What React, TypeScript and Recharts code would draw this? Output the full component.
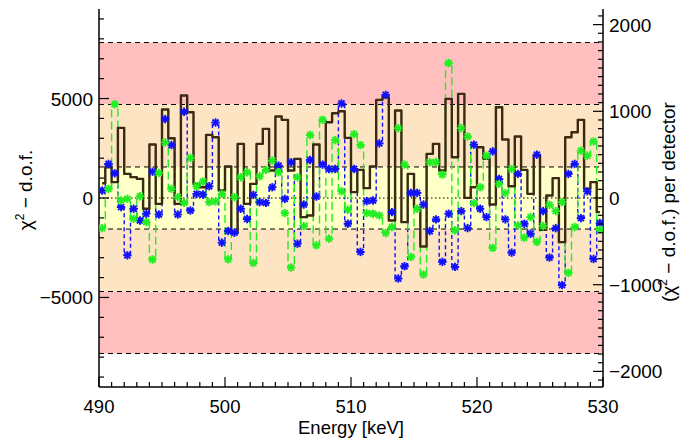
import {
  ComposedChart,
  Line,
  XAxis,
  YAxis,
  ReferenceArea,
  ReferenceLine,
} from "recharts";

// bin centres [keV]
const ENERGY = [
  490.25, 490.75, 491.25, 491.75, 492.25, 492.75, 493.25, 493.75, 494.25, 494.75,
  495.25, 495.75, 496.25, 496.75, 497.25, 497.75, 498.25, 498.75, 499.25, 499.75,
  500.25, 500.75, 501.25, 501.75, 502.25, 502.75, 503.25, 503.75, 504.25, 504.75,
  505.25, 505.75, 506.25, 506.75, 507.25, 507.75, 508.25, 508.75, 509.25, 509.75,
  510.25, 510.75, 511.25, 511.75, 512.25, 512.75, 513.25, 513.75, 514.25, 514.75,
  515.25, 515.75, 516.25, 516.75, 517.25, 517.75, 518.25, 518.75, 519.25, 519.75,
  520.25, 520.75, 521.25, 521.75, 522.25, 522.75, 523.25, 523.75, 524.25, 524.75,
  525.25, 525.75, 526.25, 526.75, 527.25, 527.75, 528.25, 528.75, 529.25, 529.75,
];

// total chi^2 - d.o.f. (left axis)
const CHI_TOTAL = [
  745, 1549, 796, 3526, 1214, 1047, 963, -544, 2688, -293,
  4447, 3007, -293, 5151, 4313, 712, 544, 3174, 3057, 377,
  1583, -1767, 2722, -293, 712, 2722, 3476, 1382, 4095, 3928,
  1382, 1968, -963, -879, 2688, 1750, 3811, 4263, 4363, 3023,
  293, 1415, 494, 1583, 4933, 5067, -1131, 4397, -1214, 1214,
  -461, -2437, 2219, 2722, 1382, 4983, 2052, 5234, 8, 544,
  2554, 1968, -327, 4564, 2940, 594, 3090, 1415, 209, 2136,
  -1600, 126, 997, -2219, 3057, 3308, 3928, 461, 796, -712,
];

// per detector (right axis)
const DET_BLUE = [
  86, 393, 285, -105, -661, -124, -259, -182, 304, -190,
  910, 611, -190, 994, -144, 48, 40, 136, 871, -515,
  -381, -400, -124, -243, 36, -48, -56, 124, 373, -10,
  412, -527, -75, 439, 17, 385, 335, 335, 1090, -297,
  335, -622, -36, -29, 630, 1189, -163, -929, -787, 59,
  59, -75, -381, -247, -737, -182, -795, -151, -347, 615,
  -124, -220, 538, 220, -247, -630, 278, -297, -412, 500,
  -151, -687, -347, -1005, 278, 393, -232, 78, -703, -289,
];

const DET_GREEN = [
  -347, 105, 1082, -29, -10, -239, 21, -278, -710, 289,
  641, 105, 10, -56, 462, 136, 190, -48, -40, 48,
  -707, 10, 239, 297, -749, 251, 324, 431, 297, -174,
  -802, 239, -324, 726, -546, 902, -469, 668, 78, -136,
  737, 611, -174, -182, -201, -404, -335, 806, 385, -680,
  -124, -883, 412, 412, 270, 1557, -373, 806, 710, -59,
  124, 488, -576, 163, 56, 335, -316, -458, -220, -507,
  -324, -78, -151, -48, -864, -335, 546, 488, 653, -366,
];

const X_TICKS = [
  490, 491, 492, 493, 494, 495, 496, 497, 498, 499, 500, 501, 502, 503, 504,
  505, 506, 507, 508, 509, 510, 511, 512, 513, 514, 515, 516, 517, 518, 519,
  520, 521, 522, 523, 524, 525, 526, 527, 528, 529, 530,
];
const LEFT_TICKS = [
  -9000, -8000, -7000, -6000, -5000, -4000, -3000, -2000, -1000, 0,
  1000, 2000, 3000, 4000, 5000, 6000, 7000, 8000, 9000,
];
const RIGHT_TICKS = [
  -2100, -2000, -1900, -1800, -1700, -1600, -1500, -1400, -1300, -1200, -1100,
  -1000, -900, -800, -700, -600, -500, -400, -300, -200, -100, 0,
  100, 200, 300, 400, 500, 600, 700, 800, 900, 1000, 1100, 1200, 1300, 1400,
  1500, 1600, 1700, 1800, 1900, 2000, 2100,
];

// sigma bands in left-axis units
const SIGMA_LEVELS = [1560, 4700, 7815];

const FONT = "'Liberation Sans', Arial, Helvetica, sans-serif";

const fmt = (v: number) => (v < 0 ? "\u2212" + Math.abs(v) : String(v));

const data = ENERGY.map((e, i) => ({
  e,
  total: CHI_TOTAL[i],
  blue: DET_BLUE[i],
  green: DET_GREEN[i],
}));

const Star = ({ cx, cy, color }: { cx: number; cy: number; color: string }) => {
  const r = 4.2;
  const d = r * 0.72;
  return (
    <g stroke={color} strokeWidth={1.9}>
      <line x1={cx - r} x2={cx + r} y1={cy} y2={cy} />
      <line x1={cx} x2={cx} y1={cy - r} y2={cy + r} />
      <line x1={cx - d} x2={cx + d} y1={cy - d} y2={cy + d} />
      <line x1={cx - d} x2={cx + d} y1={cy + d} y2={cy - d} />
    </g>
  );
};

const BottomTick = (p: any) => {
  const major = p.payload.value % 10 === 0;
  return (
    <g>
      <line x1={p.x} x2={p.x} y1={p.y} y2={p.y - (major ? 10 : 5)} stroke="#000" strokeWidth={1.2} />
      {major && (
        <text x={p.x} y={p.y + 26} textAnchor="middle" fontSize={18.5} fontFamily={FONT} fill="#000">
          {p.payload.value}
        </text>
      )}
    </g>
  );
};

const TopTick = (p: any) => {
  const major = p.payload.value % 10 === 0;
  return <line x1={p.x} x2={p.x} y1={p.y} y2={p.y + (major ? 10 : 5)} stroke="#000" strokeWidth={1.2} />;
};

const LeftTick = (p: any) => {
  const major = p.payload.value % 5000 === 0;
  return (
    <g>
      <line x1={p.x} x2={p.x + (major ? 10 : 5)} y1={p.y} y2={p.y} stroke="#000" strokeWidth={1.2} />
      {major && (
        <text x={p.x - 6} y={p.y + 7} textAnchor="end" fontSize={19} fontFamily={FONT} fill="#000">
          {fmt(p.payload.value)}
        </text>
      )}
    </g>
  );
};

const RightTick = (p: any) => {
  const major = p.payload.value % 1000 === 0;
  return (
    <g>
      <line x1={p.x} x2={p.x - (major ? 10 : 5)} y1={p.y} y2={p.y} stroke="#000" strokeWidth={1.2} />
      {major && (
        <text x={p.x + 6} y={p.y + 7} textAnchor="start" fontSize={19} fontFamily={FONT} fill="#000">
          {fmt(p.payload.value)}
        </text>
      )}
    </g>
  );
};

export default function App() {
  return (
    <div style={{ position: "absolute", left: 0, top: 0, background: "#fff" }}>
      <ComposedChart
        width={683}
        height={439}
        data={data}
        margin={{ top: 9, right: 0, bottom: 0, left: 0 }}
      >
        <XAxis
          type="number"
          dataKey="e"
          domain={[490, 530]}
          ticks={X_TICKS}
          interval={0}
          allowDataOverflow
          height={52}
          tickLine={false}
          tickSize={0}
          tickMargin={0}
          axisLine={{ stroke: "#000", strokeWidth: 1.5 }}
          tick={(p: any) => <BottomTick {...p} />}
        />
        <XAxis
          xAxisId="top"
          orientation="top"
          type="number"
          dataKey="e"
          domain={[490, 530]}
          ticks={X_TICKS}
          interval={0}
          allowDataOverflow
          height={0}
          tickLine={false}
          tickSize={0}
          tickMargin={0}
          axisLine={{ stroke: "#000", strokeWidth: 1.5 }}
          tick={(p: any) => <TopTick {...p} />}
        />
        <YAxis
          yAxisId="left"
          type="number"
          domain={[-9500, 9500]}
          ticks={LEFT_TICKS}
          interval={0}
          allowDataOverflow
          width={99}
          tickLine={false}
          tickSize={0}
          tickMargin={0}
          axisLine={{ stroke: "#000", strokeWidth: 1.5 }}
          tick={(p: any) => <LeftTick {...p} />}
        />
        <YAxis
          yAxisId="right"
          orientation="right"
          type="number"
          domain={[-2180, 2180]}
          ticks={RIGHT_TICKS}
          interval={0}
          allowDataOverflow
          width={80}
          tickLine={false}
          tickSize={0}
          tickMargin={0}
          axisLine={{ stroke: "#000", strokeWidth: 1.5 }}
          tick={(p: any) => <RightTick {...p} />}
        />

        {/* sigma bands */}
        <ReferenceArea yAxisId="left" y1={SIGMA_LEVELS[1]} y2={SIGMA_LEVELS[2]} fill="#ffbfbf" fillOpacity={1} stroke="none" />
        <ReferenceArea yAxisId="left" y1={-SIGMA_LEVELS[2]} y2={-SIGMA_LEVELS[1]} fill="#ffbfbf" fillOpacity={1} stroke="none" />
        <ReferenceArea yAxisId="left" y1={-SIGMA_LEVELS[1]} y2={SIGMA_LEVELS[1]} fill="#fde4c2" fillOpacity={1} stroke="none" />
        <ReferenceArea yAxisId="left" y1={-SIGMA_LEVELS[0]} y2={SIGMA_LEVELS[0]} fill="#ffffc8" fillOpacity={1} stroke="none" />
        {SIGMA_LEVELS.flatMap((s) => [s, -s]).map((s) => (
          <ReferenceLine key={s} yAxisId="left" y={s} stroke="#000" strokeDasharray="5 4" strokeWidth={1} />
        ))}
        <ReferenceLine yAxisId="left" y={0} stroke="#000" strokeDasharray="1.5 2.5" strokeWidth={1} />

        <Line
          yAxisId="right"
          type="step"
          dataKey="blue"
          stroke="#1010ff"
          strokeWidth={1.4}
          strokeDasharray="4 3"
          dot={(p: any) => <Star key={"b" + p.index} cx={p.cx} cy={p.cy} color="#1010ff" />}
          isAnimationActive={false}
        />
        <Line
          yAxisId="right"
          type="step"
          dataKey="green"
          stroke="#22ee22"
          strokeWidth={1.4}
          strokeDasharray="8 4"
          dot={(p: any) => <Star key={"g" + p.index} cx={p.cx} cy={p.cy} color="#22ee22" />}
          isAnimationActive={false}
        />
        <Line
          yAxisId="left"
          type="step"
          dataKey="total"
          stroke="#3a2a12"
          strokeWidth={2.4}
          strokeLinejoin="round"
          dot={false}
          isAnimationActive={false}
        />

        <text
          transform="translate(32,190) rotate(-90)"
          textAnchor="middle"
          fontSize={19}
          fontFamily={FONT}
          fill="#000"
        >
          <tspan>χ</tspan>
          <tspan dy={-8} fontSize={12}>2</tspan>
          <tspan dy={8}> − d.o.f.</tspan>
        </text>
        <text
          transform="translate(675,202) rotate(-90)"
          textAnchor="middle"
          fontSize={19}
          fontFamily={FONT}
          fill="#000"
        >
          <tspan>(χ</tspan>
          <tspan dy={-8} fontSize={12}>2</tspan>
          <tspan dy={8}> − d.o.f.) per detector</tspan>
        </text>
        <text x={351} y={434} textAnchor="middle" fontSize={18.5} fontFamily={FONT} fill="#000">
          Energy [keV]
        </text>
      </ComposedChart>
    </div>
  );
}
